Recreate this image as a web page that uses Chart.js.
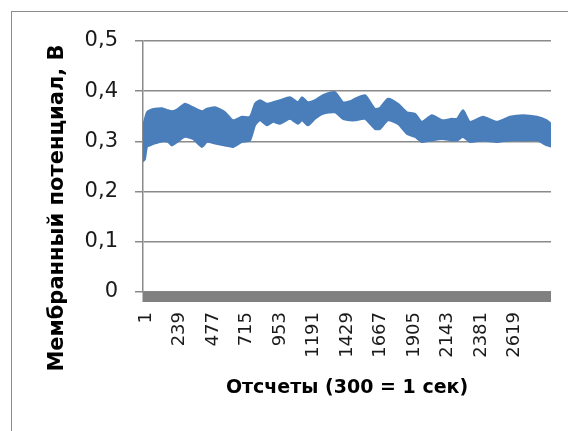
<!DOCTYPE html>
<html>
<head>
<meta charset="utf-8">
<script src="https://cdn.jsdelivr.net/npm/chart.js@4/dist/chart.umd.min.js"></script>
<style>
  html, body { margin: 0; padding: 0; background: #fff; overflow: hidden; }
  #wrap { position: relative; width: 568px; height: 431px; }
  #frame { position: absolute; left: 11px; top: 11px; width: 620px; height: 480px;
           border: 1.5px solid #8c8c8c; box-sizing: border-box; }
  canvas { position: absolute; left: 0; top: 0; }
</style>
</head>
<body>
<div id="wrap">
  <div id="frame"></div>
  <canvas id="c" width="568" height="431"></canvas>
</div>
<script>
// Sample numbers (300 samples = 1 s) at which the trace envelope is given
const sampleIdx = [1, 15, 29, 51, 86, 136, 179, 207, 250, 299, 356, 420, 456, 513, 584, 640,
  704, 761, 797, 832, 882, 925, 974, 1045, 1102, 1131, 1173, 1223, 1280, 1365, 1422, 1472,
  1507, 1578, 1649, 1685, 1742, 1813, 1877, 1934, 1983, 2054, 2125, 2196, 2232, 2275, 2324,
  2417, 2516, 2608, 2701, 2800, 2871, 2900];

// Upper and lower edges of the noisy membrane potential trace, V
const upperV = [0.330, 0.345, 0.358, 0.362, 0.365, 0.366, 0.362, 0.360, 0.365, 0.375, 0.368,
  0.360, 0.365, 0.368, 0.358, 0.342, 0.349, 0.349, 0.375, 0.382, 0.375, 0.378, 0.382, 0.388,
  0.378, 0.388, 0.378, 0.382, 0.392, 0.398, 0.378, 0.380, 0.385, 0.392, 0.365, 0.367, 0.385,
  0.375, 0.358, 0.355, 0.339, 0.352, 0.342, 0.345, 0.345, 0.362, 0.339, 0.349, 0.339, 0.349,
  0.352, 0.349, 0.342, 0.335];
const lowerV = [0.260, 0.265, 0.289, 0.292, 0.296, 0.300, 0.299, 0.292, 0.300, 0.309, 0.305,
  0.289, 0.299, 0.296, 0.292, 0.289, 0.299, 0.302, 0.332, 0.342, 0.332, 0.339, 0.335, 0.345,
  0.335, 0.342, 0.332, 0.345, 0.355, 0.358, 0.345, 0.342, 0.342, 0.345, 0.325, 0.325, 0.342,
  0.335, 0.315, 0.309, 0.299, 0.302, 0.305, 0.302, 0.302, 0.309, 0.299, 0.302, 0.299, 0.302,
  0.302, 0.302, 0.292, 0.290];

// Category tick labels along the sample axis
const xTickLabels = [1, 239, 477, 715, 953, 1191, 1429, 1667, 1905, 2143, 2381, 2619];
const yTickValues = [0, 0.1, 0.2, 0.3, 0.4, 0.5];
const yTickLabels = ['0', '0,1', '0,2', '0,3', '0,4', '0,5'];
const xMax = 2900;

const xTitle = 'Отсчеты (300 = 1 сек)';
const yTitle = 'Мембранный потенциал, В';

const blue = '#4a7ebb';
const gridGrey = '#8a8a8a';

// Thick grey band along the zero line (formatted horizontal axis)
const axisBand = {
  id: 'axisBand',
  afterDatasetsDraw(chart) {
    const { ctx, chartArea, scales } = chart;
    const y0 = scales.y.getPixelForValue(0);
    ctx.save();
    ctx.fillStyle = '#808080';
    ctx.fillRect(chartArea.left - 0.5, y0 - 0.5, chartArea.right - chartArea.left + 0.5, 10.5);
    ctx.restore();
  }
};

// Vertical axis title, centred on the whole left block (plot plus tick labels)
const yAxisTitle = {
  id: 'yAxisTitle',
  afterDraw(chart) {
    const { ctx } = chart;
    ctx.save();
    ctx.translate(58, 208);
    ctx.rotate(-Math.PI / 2);
    ctx.font = 'bold 21px "DejaVu Sans"';
    ctx.fillStyle = '#000';
    ctx.textAlign = 'center';
    ctx.textBaseline = 'middle';
    ctx.fillText(yTitle, 0, 0);
    ctx.restore();
  }
};

new Chart(document.getElementById('c'), {
  type: 'line',
  data: {
    datasets: [
      {
        label: 'upper',
        data: sampleIdx.map((x, i) => ({ x, y: upperV[i] })),
        borderColor: blue,
        backgroundColor: blue,
        borderWidth: 2,
        pointRadius: 0,
        tension: 0.2,
        fill: '+1'
      },
      {
        label: 'lower',
        data: sampleIdx.map((x, i) => ({ x, y: lowerV[i] })),
        borderColor: blue,
        backgroundColor: blue,
        borderWidth: 2,
        pointRadius: 0,
        tension: 0.2,
        fill: false
      }
    ]
  },
  options: {
    responsive: false,
    devicePixelRatio: 1,
    animation: false,
    layout: { padding: { left: 0, top: 41, right: 17, bottom: 0 } },
    plugins: { legend: { display: false }, tooltip: { enabled: false } },
    scales: {
      x: {
        type: 'linear',
        min: 1,
        max: xMax,
        afterBuildTicks: (scale) => { scale.ticks = xTickLabels.map(v => ({ value: v })); },
        afterFit: (scale) => { scale.height = 431 - 292; },
        grid: { display: false, drawTicks: false },
        border: { display: false },
        ticks: {
          autoSkip: false,
          minRotation: 90,
          maxRotation: 90,
          padding: 20,
          labelOffset: 3,
          color: '#1a1a1a',
          font: { family: 'DejaVu Sans', size: 18 },
          callback: (v) => String(v)
        },
        title: {
          display: true,
          text: xTitle,
          color: '#000',
          font: { family: 'DejaVu Sans', size: 19, weight: 'bold' },
          padding: { top: 0, bottom: 32 }
        }
      },
      y: {
        min: 0,
        max: 0.5,
        afterBuildTicks: (scale) => { scale.ticks = yTickValues.map(v => ({ value: v })); },
        afterFit: (scale) => { scale.width = 143; },
        grid: { color: gridGrey, lineWidth: 1.5, drawTicks: true, tickLength: 8 },
        border: { display: true, color: gridGrey, width: 1.5 },
        ticks: {
          padding: 17,
          color: '#1a1a1a',
          font: { family: 'DejaVu Sans', size: 21 },
          callback: (v, i) => yTickLabels[i]
        }
      }
    }
  },
  plugins: [axisBand, yAxisTitle]
});
</script>
</body>
</html>
